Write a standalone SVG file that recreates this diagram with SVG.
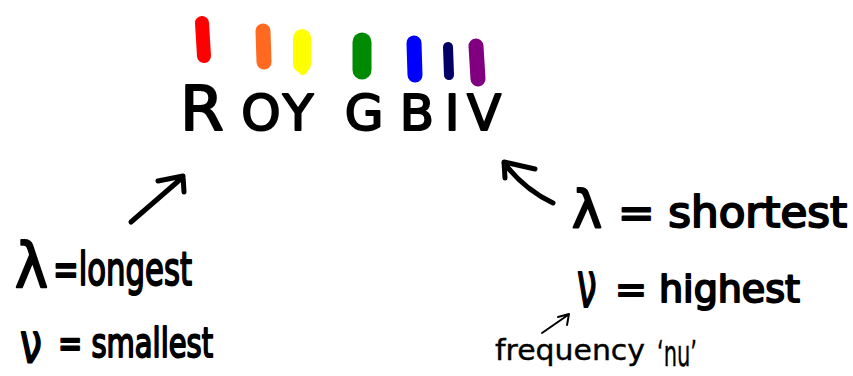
<svg xmlns="http://www.w3.org/2000/svg" width="853" height="376" viewBox="0 0 853 376">
<style>
.bar{fill:none;stroke-linecap:round;stroke-linejoin:round}
.t{font-family:"DejaVu Sans","Liberation Sans",sans-serif;fill:#000;stroke:#000;stroke-width:2;stroke-linejoin:round}
.thin{font-family:"DejaVu Sans","Liberation Sans",sans-serif;fill:#000;stroke:#000;stroke-width:0.4}
.arr{fill:none;stroke:#000;stroke-width:5;stroke-linecap:round;stroke-linejoin:round}
.arr-s{fill:none;stroke:#000;stroke-width:2;stroke-linecap:round;stroke-linejoin:round}
</style>
<rect width="853" height="376" fill="#fff"/>
<g id="spectrum">
<line class="bar" x1="202" y1="23" x2="204" y2="56" stroke="#ff0000" stroke-width="14"/>
<line class="bar" x1="263" y1="31" x2="264" y2="62" stroke="#ff6a20" stroke-width="15"/>
<line class="bar" x1="302" y1="38" x2="302" y2="64" stroke="#ffff00" stroke-width="18"/>
<line class="bar" x1="301" y1="60" x2="303" y2="71" stroke="#ffff00" stroke-width="8"/>
<line class="bar" x1="362" y1="42" x2="362" y2="70" stroke="#008a00" stroke-width="19"/>
<line class="bar" x1="414" y1="43" x2="415" y2="75" stroke="#0000ff" stroke-width="15"/>
<line class="bar" x1="448" y1="47" x2="449" y2="75" stroke="#000066" stroke-width="10"/>
<line class="bar" x1="476" y1="46" x2="478" y2="79" stroke="#800080" stroke-width="15"/>
</g>
<g id="roygbiv">
<text class="t" y="130" font-size="50" text-anchor="middle"><tspan x="202" font-size="63">R</tspan><tspan x="261">O</tspan><tspan x="298">Y</tspan><tspan x="364">G</tspan><tspan x="417">B</tspan><tspan x="452">I</tspan><tspan x="484">V</tspan></text>
</g>
<g id="label-left">
<text class="t" x="15" y="287" font-size="62" textLength="33" lengthAdjust="spacingAndGlyphs">λ</text>
<text class="t" x="53" y="285" font-size="46" textLength="139" lengthAdjust="spacingAndGlyphs">=longest</text>
<text class="t" transform="translate(20,362) scale(0.7,1)" x="0" y="0" font-size="56">ν</text>
<text class="t" x="58" y="357" font-size="40" textLength="155" lengthAdjust="spacingAndGlyphs">= smallest</text>
</g>
<g id="label-right">
<text class="t" x="572" y="227" font-size="52" textLength="30" lengthAdjust="spacingAndGlyphs">λ</text>
<text class="t" x="618" y="227" font-size="42" textLength="229" lengthAdjust="spacingAndGlyphs">= shortest</text>
<text class="t" transform="translate(577,307) scale(0.55,1)" x="0" y="0" font-size="64">ν</text>
<text class="t" x="615" y="302" font-size="38" textLength="185" lengthAdjust="spacingAndGlyphs">= highest</text>
</g>
<g id="label-nu">
<text class="thin" x="495" y="360" font-size="28" textLength="150" lengthAdjust="spacingAndGlyphs">frequency</text>
<text class="thin" x="657" y="366" font-size="36" textLength="40" lengthAdjust="spacingAndGlyphs">‘nu’</text>
</g>
<g id="connectors">
<path class="arr" d="M131,222 L183,177 M158,181 L183,176 L184,192"/>
<path class="arr" d="M553,203 Q525,190 504,163 M505,178 L504,162 L535,169"/>
<path class="arr-s" d="M542,333 L568,315 M558,317 L569,314 L567,325"/>
</g>
</svg>
